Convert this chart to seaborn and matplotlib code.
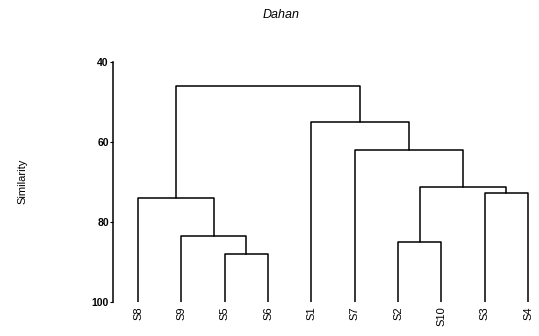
import pandas as pd
import matplotlib
matplotlib.use("Agg")
import matplotlib.pyplot as plt
import seaborn as sns

# ---- data: leaf order and merges (similarity, %) ----
leaves = ["S8", "S9", "S5", "S6", "S1", "S7", "S2", "S10", "S3", "S4"]
merge_names = ["A", "B", "C", "D", "E", "F", "G", "H", "I"]
merge_left = ["S5", "S9", "S8", "S2", "S3", "D", "S7", "S1", "C"]
merge_right = ["S6", "A", "B", "S10", "S4", "E", "F", "G", "H"]
merge_height = [88, 83.5, 74, 85, 72.7, 71.2, 62, 55, 46]
y_ticks = [40, 60, 80, 100]

# ---- build link segments ----
pos = {name: i for i, name in enumerate(leaves)}
height = {name: 100 for name in leaves}
rows = []
for k, (name, l, r, h) in enumerate(zip(merge_names, merge_left, merge_right, merge_height)):
    pts = [(pos[l], height[l]), (pos[l], h), (pos[r], h), (pos[r], height[r])]
    for order, (x, y) in enumerate(pts):
        rows.append({"link": k, "order": order, "x": x, "y": y})
    pos[name] = (pos[l] + pos[r]) / 2
    height[name] = h
segs = pd.DataFrame(rows)

sns.set_style("ticks")
plt.rcParams["font.family"] = ["Liberation Sans", "DejaVu Sans"]
plt.rcParams["text.color"] = "black"
plt.rcParams["xtick.color"] = "black"
plt.rcParams["ytick.color"] = "black"
plt.rcParams["axes.edgecolor"] = "black"

fig = plt.figure(figsize=(5.39, 3.36), dpi=100)
ax = fig.add_axes([0.2097, 0.1012, 0.7903, 0.7143])

sns.lineplot(data=segs, x="x", y="y", units="link", estimator=None, sort=False,
             color="black", linewidth=1.1, ax=ax, legend=False)

ax.set_ylim(100, 40)
ax.set_xlim(-0.58, 9.25)
ax.set_yticks(y_ticks)
ax.set_yticklabels([str(t) for t in y_ticks], fontsize=7.5, fontweight="bold",
                   family=["Liberation Sans Narrow", "Liberation Sans", "DejaVu Sans"])
ax.tick_params(axis="y", length=2, width=0.8, pad=1, colors="black")
ax.set_xticks(range(len(leaves)))
ax.set_xticklabels(leaves, rotation=90, fontsize=8)
ax.tick_params(axis="x", length=0, pad=3, colors="black")

for side in ["top", "right", "bottom"]:
    ax.spines[side].set_visible(False)
ax.spines["left"].set_linewidth(1.1)

ax.set_xlabel("")
ax.set_ylabel("")
fig.text(0.041, 0.46, "Similarity", rotation=90, ha="center", va="center", fontsize=8)
fig.text(0.521, 0.955, "Dahan", ha="center", va="center", fontsize=9, style="italic")

fig.savefig("out.png", dpi=100)
